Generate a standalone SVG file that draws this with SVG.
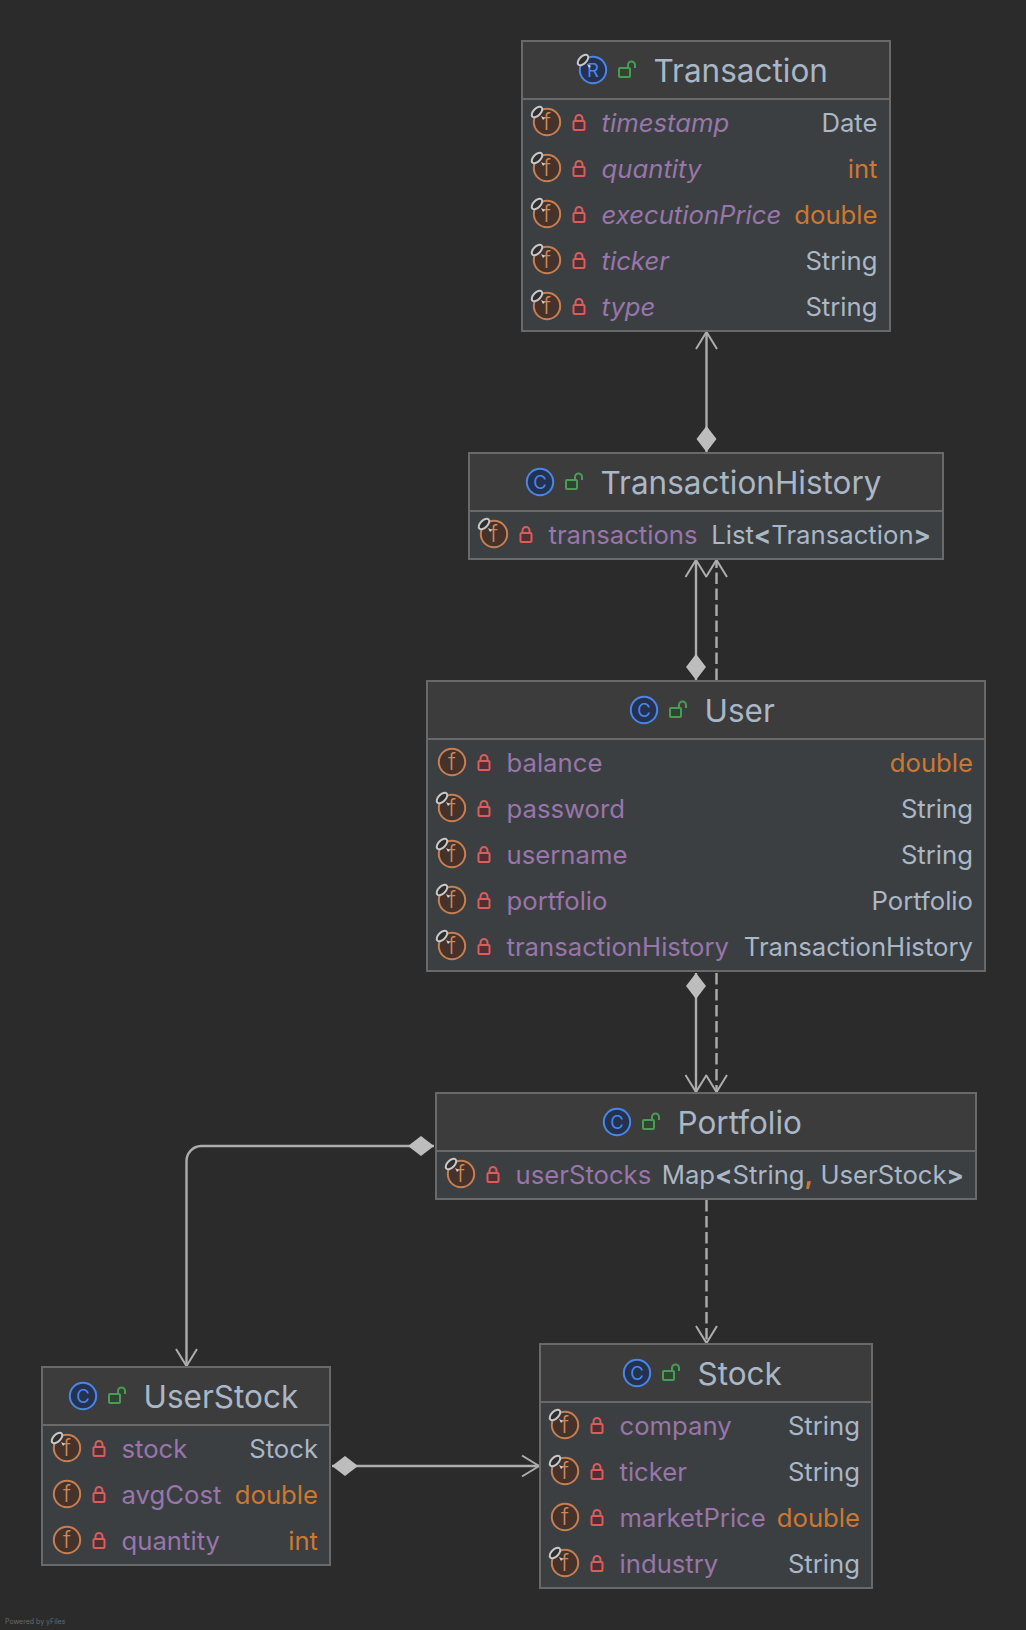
<svg xmlns="http://www.w3.org/2000/svg" width="1026" height="1630" viewBox="0 0 1026 1630">
<style>
text{font-family:"Inter","Noto Sans",sans-serif}
.box{fill:#3c3f41;stroke:none}
.head{fill:#3c3c3c}
.frame{fill:none;stroke:#696969;stroke-width:2}
.sep{stroke:#696969;stroke-width:2}
.t{font-size:31.5px;fill:#a9b7c6}
.n{font-size:25.7px;fill:#9876aa}
.i{font-style:italic}
.y{font-size:25.7px;fill:#a9b7c6;text-anchor:end}
.p{fill:#cc7832}
.b{font-weight:700}
.f{font-size:23px;font-weight:300;fill:#c9895f;text-anchor:middle}
.c{font-size:18.5px;fill:#4a86e8;text-anchor:middle}
.e{fill:none;stroke:#adadad;stroke-width:2.4}
.s{marker-start:url(#diamond)}
.a{marker-end:url(#arrow)}
.d{stroke-dasharray:11.5 4.5}
.pw{font-size:7px;fill:#6a6a6a}
</style>
<defs>
<marker id="arrow" markerUnits="userSpaceOnUse" markerWidth="20" markerHeight="24" refX="17" refY="11" orient="auto" overflow="visible"><path d="M0,0.5 L17,11 L0,21.5" fill="none" stroke="#adadad" stroke-width="2"/></marker>
<marker id="diamond" markerUnits="userSpaceOnUse" markerWidth="28" markerHeight="22" refX="0" refY="10" orient="auto" overflow="visible"><path d="M0,10 L13,0 L26,10 L13,20 Z" fill="#bdbdbd"/></marker>
<g id="fi"><circle r="13.2" fill="#45322b" stroke="#c57f53" stroke-width="2"/></g>
<g id="ci"><circle r="13.2" fill="#24324f" stroke="#4a86e8" stroke-width="2"/></g>
<g id="lk"><rect x="-5.5" y="-1" width="11" height="9" rx="1" fill="#4f2f32" stroke="#db5c5c" stroke-width="2"/><path d="M-3.5,-1 V-3.5 A3.5,3.5 0 0 1 3.5,-3.5 V-1" fill="none" stroke="#db5c5c" stroke-width="2"/></g>
<g id="ul"><rect x="-8" y="-2" width="11" height="9" rx="1" fill="#2f4531" stroke="#499c54" stroke-width="2"/><path d="M1,-2 V-5 A3.5,3.5 0 0 1 8,-5 V-2" fill="none" stroke="#499c54" stroke-width="2"/></g>
<g id="ln"><ellipse cx="-10" cy="-10" rx="6.5" ry="3.6" transform="rotate(-45 -10 -10)" fill="#2e2e2e" stroke="#c8c8c8" stroke-width="2"/><path d="M-6,-6 L-2,-4 L-4,-2 Z" fill="#d0d0d0"/></g>
</defs>
<rect width="1026" height="1630" fill="#2b2b2b"/>
<g id="connectors">
<path class="e s a" d="M706.5,452 V332"/>
<path class="e s a" d="M696,680 V560"/>
<path class="e d a" d="M716.5,680 V560"/>
<path class="e s a" d="M696,973 V1092"/>
<path class="e d a" d="M716.5,973 V1092"/>
<path class="e s a" d="M434,1146 H201 A15,15 0 0 0 186.5,1161 V1366"/>
<path class="e d a" d="M706.5,1200 V1343"/>
<path class="e s a" d="M332,1466 H539"/>
</g>
<g id="Transaction">
<rect class="box" x="522" y="41" width="368" height="290"/><rect class="head" x="522" y="41" width="368" height="58"/><line class="sep" x1="522" y1="99" x2="890" y2="99"/><rect class="frame" x="522" y="41" width="368" height="290"/>
<use href="#ci" x="593" y="70"/><text class="c" x="593" y="76.5">R</text><use href="#ln" x="593" y="70"/><use href="#ul" x="627" y="70"/><text class="t" x="653.5" y="82">Transaction</text>
<use href="#fi" x="547" y="122"/><text class="f" x="547" y="130">f</text><use href="#ln" x="547" y="122"/><use href="#lk" x="579" y="122"/><text class="n i" x="601.5" y="132">timestamp</text><text class="y" x="877.5" y="132">Date</text>
<use href="#fi" x="547" y="168"/><text class="f" x="547" y="176">f</text><use href="#ln" x="547" y="168"/><use href="#lk" x="579" y="168"/><text class="n i" x="601.5" y="178">quantity</text><text class="y p" x="877.5" y="178">int</text>
<use href="#fi" x="547" y="214"/><text class="f" x="547" y="222">f</text><use href="#ln" x="547" y="214"/><use href="#lk" x="579" y="214"/><text class="n i" x="601.5" y="224">executionPrice</text><text class="y p" x="877.5" y="224">double</text>
<use href="#fi" x="547" y="260"/><text class="f" x="547" y="268">f</text><use href="#ln" x="547" y="260"/><use href="#lk" x="579" y="260"/><text class="n i" x="601.5" y="270">ticker</text><text class="y" x="877.5" y="270">String</text>
<use href="#fi" x="547" y="306"/><text class="f" x="547" y="314">f</text><use href="#ln" x="547" y="306"/><use href="#lk" x="579" y="306"/><text class="n i" x="601.5" y="316">type</text><text class="y" x="877.5" y="316">String</text>
</g>
<g id="TransactionHistory">
<rect class="box" x="469" y="453" width="474" height="106"/><rect class="head" x="469" y="453" width="474" height="58"/><line class="sep" x1="469" y1="511" x2="943" y2="511"/><rect class="frame" x="469" y="453" width="474" height="106"/>
<use href="#ci" x="540" y="482"/><text class="c" x="540" y="488.5">C</text><use href="#ul" x="574" y="482"/><text class="t" x="600.5" y="494">TransactionHistory</text>
<use href="#fi" x="494" y="534"/><text class="f" x="494" y="542">f</text><use href="#ln" x="494" y="534"/><use href="#lk" x="526" y="534"/><text class="n" x="548.5" y="544">transactions</text><text class="y" x="931" y="544">List<tspan class="b">&lt;</tspan>Transaction<tspan class="b">&gt;</tspan></text>
</g>
<g id="User">
<rect class="box" x="427" y="681" width="558" height="290"/><rect class="head" x="427" y="681" width="558" height="58"/><line class="sep" x1="427" y1="739" x2="985" y2="739"/><rect class="frame" x="427" y="681" width="558" height="290"/>
<use href="#ci" x="644" y="710"/><text class="c" x="644" y="716.5">C</text><use href="#ul" x="678" y="710"/><text class="t" x="704.5" y="722">User</text>
<use href="#fi" x="452" y="762"/><text class="f" x="452" y="770">f</text><use href="#lk" x="484" y="762"/><text class="n" x="506.5" y="772">balance</text><text class="y p" x="973" y="772">double</text>
<use href="#fi" x="452" y="808"/><text class="f" x="452" y="816">f</text><use href="#ln" x="452" y="808"/><use href="#lk" x="484" y="808"/><text class="n" x="506.5" y="818">password</text><text class="y" x="973" y="818">String</text>
<use href="#fi" x="452" y="854"/><text class="f" x="452" y="862">f</text><use href="#ln" x="452" y="854"/><use href="#lk" x="484" y="854"/><text class="n" x="506.5" y="864">username</text><text class="y" x="973" y="864">String</text>
<use href="#fi" x="452" y="900"/><text class="f" x="452" y="908">f</text><use href="#ln" x="452" y="900"/><use href="#lk" x="484" y="900"/><text class="n" x="506.5" y="910">portfolio</text><text class="y" x="973" y="910">Portfolio</text>
<use href="#fi" x="452" y="946"/><text class="f" x="452" y="954">f</text><use href="#ln" x="452" y="946"/><use href="#lk" x="484" y="946"/><text class="n" x="506.5" y="956">transactionHistory</text><text class="y" x="973" y="956">TransactionHistory</text>
</g>
<g id="Portfolio">
<rect class="box" x="436" y="1093" width="540" height="106"/><rect class="head" x="436" y="1093" width="540" height="58"/><line class="sep" x1="436" y1="1151" x2="976" y2="1151"/><rect class="frame" x="436" y="1093" width="540" height="106"/>
<use href="#ci" x="617" y="1122"/><text class="c" x="617" y="1128.5">C</text><use href="#ul" x="651" y="1122"/><text class="t" x="677.5" y="1134">Portfolio</text>
<use href="#fi" x="461" y="1174"/><text class="f" x="461" y="1182">f</text><use href="#ln" x="461" y="1174"/><use href="#lk" x="493" y="1174"/><text class="n" x="515.5" y="1184">userStocks</text><text class="y" x="964" y="1184">Map<tspan class="b">&lt;</tspan>String<tspan class="p b">,</tspan> UserStock<tspan class="b">&gt;</tspan></text>
</g>
<g id="UserStock">
<rect class="box" x="42" y="1367" width="288" height="198"/><rect class="head" x="42" y="1367" width="288" height="58"/><line class="sep" x1="42" y1="1425" x2="330" y2="1425"/><rect class="frame" x="42" y="1367" width="288" height="198"/>
<use href="#ci" x="83" y="1396"/><text class="c" x="83" y="1402.5">C</text><use href="#ul" x="117" y="1396"/><text class="t" x="143.5" y="1408">UserStock</text>
<use href="#fi" x="67" y="1448"/><text class="f" x="67" y="1456">f</text><use href="#ln" x="67" y="1448"/><use href="#lk" x="99" y="1448"/><text class="n" x="121.5" y="1458">stock</text><text class="y" x="318" y="1458">Stock</text>
<use href="#fi" x="67" y="1494"/><text class="f" x="67" y="1502">f</text><use href="#lk" x="99" y="1494"/><text class="n" x="121.5" y="1504">avgCost</text><text class="y p" x="318" y="1504">double</text>
<use href="#fi" x="67" y="1540"/><text class="f" x="67" y="1548">f</text><use href="#lk" x="99" y="1540"/><text class="n" x="121.5" y="1550">quantity</text><text class="y p" x="318" y="1550">int</text>
</g>
<g id="Stock">
<rect class="box" x="540" y="1344" width="332" height="244"/><rect class="head" x="540" y="1344" width="332" height="58"/><line class="sep" x1="540" y1="1402" x2="872" y2="1402"/><rect class="frame" x="540" y="1344" width="332" height="244"/>
<use href="#ci" x="637" y="1373"/><text class="c" x="637" y="1379.5">C</text><use href="#ul" x="671" y="1373"/><text class="t" x="697.5" y="1385">Stock</text>
<use href="#fi" x="565" y="1425"/><text class="f" x="565" y="1433">f</text><use href="#ln" x="565" y="1425"/><use href="#lk" x="597" y="1425"/><text class="n" x="619.5" y="1435">company</text><text class="y" x="860" y="1435">String</text>
<use href="#fi" x="565" y="1471"/><text class="f" x="565" y="1479">f</text><use href="#ln" x="565" y="1471"/><use href="#lk" x="597" y="1471"/><text class="n" x="619.5" y="1481">ticker</text><text class="y" x="860" y="1481">String</text>
<use href="#fi" x="565" y="1517"/><text class="f" x="565" y="1525">f</text><use href="#lk" x="597" y="1517"/><text class="n" x="619.5" y="1527">marketPrice</text><text class="y p" x="860" y="1527">double</text>
<use href="#fi" x="565" y="1563"/><text class="f" x="565" y="1571">f</text><use href="#ln" x="565" y="1563"/><use href="#lk" x="597" y="1563"/><text class="n" x="619.5" y="1573">industry</text><text class="y" x="860" y="1573">String</text>
</g>
<text class="pw" x="5" y="1624">Powered by yFiles</text>
</svg>
